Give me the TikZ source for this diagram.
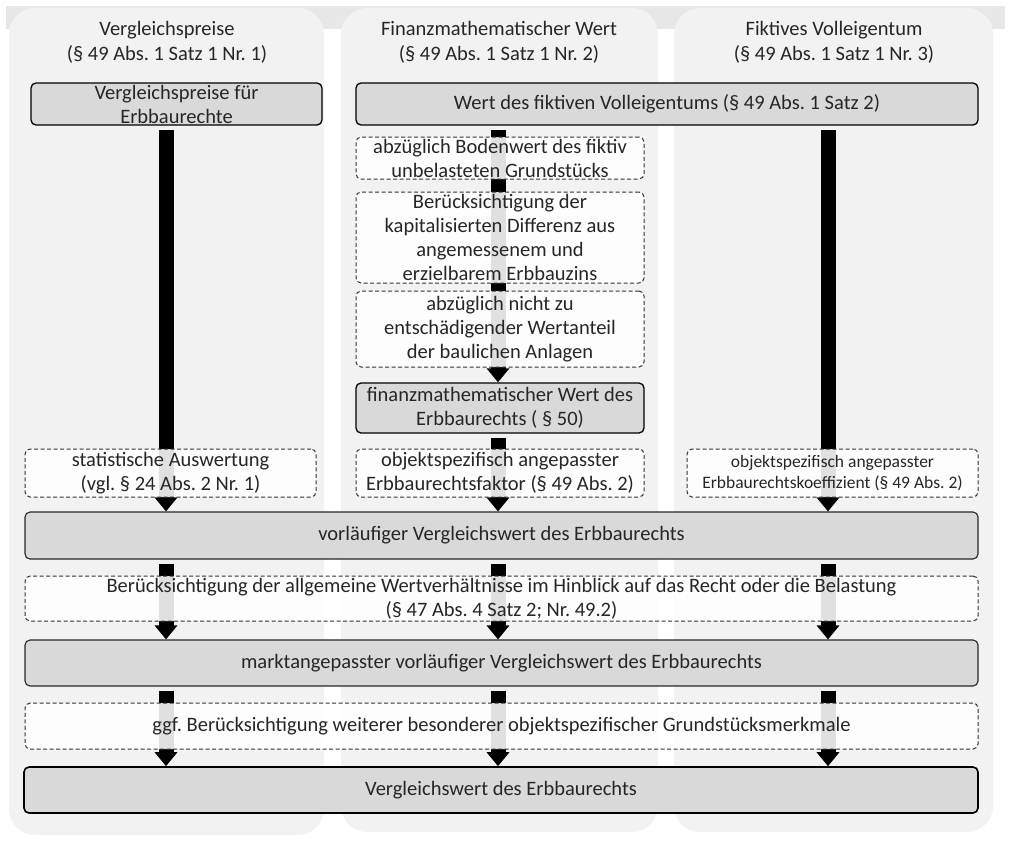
\documentclass[tikz,border=0pt]{standalone}
\usepackage{fontspec}
\setmainfont{Carlito}
\usetikzlibrary{arrows.meta,calc}
\definecolor{colbg}{HTML}{F2F2F2}
\definecolor{bandc}{HTML}{E7E7E7}
\definecolor{boxfill}{HTML}{D9D9D9}
\definecolor{txtc}{HTML}{262626}
\definecolor{dashc}{HTML}{333333}
\pgfdeclarelayer{bg}
\pgfdeclarelayer{arr}
\pgfsetlayers{bg,arr,main}
\newcommand\mainsz{\fontsize{20.5}{24}\selectfont}
\newcommand\smallsz{\fontsize{17.5}{20.5}\selectfont}
\tikzset{
  solidbox/.style={draw=black, line width=1.3pt, fill=boxfill, rounded corners=5pt,
    inner sep=0pt, align=center, text=txtc, font=\mainsz},
  widebox/.style={solidbox, line width=1.1pt, draw=txtc},
  dashbox/.style={draw=dashc, line width=1pt, dash pattern=on 4pt off 2.5pt,
    fill=white, fill opacity=0.88, text opacity=1, rounded corners=5pt,
    inner sep=0pt, align=center, text=txtc, font=\mainsz},
  headtext/.style={align=center, text=txtc, font=\fontsize{20.5}{25}\selectfont, inner sep=0pt},
  flow/.style={line width=15pt, black, shorten <=4pt, -{Triangle[width=22pt,length=14pt]}},
  colpanel/.style={fill=colbg, rounded corners=26pt},
}
\begin{document}
\frenchspacing
\begin{tikzpicture}[x=1pt,y=-1pt]
\useasboundingbox (0,0) rectangle (1011,841);
\begin{pgfonlayer}{bg}
  \fill[bandc] (6,6) rectangle (1005,29);
  \path[colpanel] (9,8) rectangle (324,835);
  \path[colpanel] (341,8) rectangle (658,832);
  \path[colpanel] (674,8) rectangle (993,832);
\end{pgfonlayer}

\coordinate (x1) at (166,0);
\coordinate (x2) at (498,0);
\coordinate (x3) at (828,0);

\node[headtext] (h1) at (167,42.5) {Vergleichspreise\\(§ 49 Abs. 1 Satz 1 Nr. 1)};
\node[headtext] (h2) at (499,42.5) {Finanzmathematischer Wert\\(§ 49 Abs. 1 Satz 1 Nr. 2)};
\node[headtext] (h3) at (834,42.5) {Fiktives Volleigentum\\(§ 49 Abs. 1 Satz 1 Nr. 3)};

\node[solidbox, minimum width=291pt, minimum height=42pt] (b1) at (176.5,104)
  {Vergleichspreise für\\Erbbaurechte};
\node[solidbox, minimum width=622pt, minimum height=42pt] (w) at (667,104)
  {Wert des fiktiven Volleigentums (§ 49 Abs. 1 Satz 2)};

\node[dashbox, minimum width=288pt, minimum height=42pt] (d1) at (500,158)
  {abzüglich Bodenwert des fiktiv\\unbelasteten Grundstücks};
\node[dashbox, minimum width=288pt, minimum height=91pt] (d2) at (500,237.5)
  {Berücksichtigung der\\kapitalisierten Differenz aus\\angemessenem und\\erzielbarem Erbbauzins};
\node[dashbox, minimum width=288pt, minimum height=76pt] (d3) at (500,329)
  {abzüglich nicht zu\\entschädigender Wertanteil\\der baulichen Anlagen};
\node[solidbox, minimum width=288pt, minimum height=50pt] (f) at (500,408)
  {finanzmathematischer Wert des\\Erbbaurechts ( § 50)};

\node[dashbox, minimum width=291pt, minimum height=48pt] (s1) at (170.5,473)
  {statistische Auswertung\\(vgl. § 24 Abs. 2 Nr. 1)};
\node[dashbox, minimum width=288pt, minimum height=48pt] (o2) at (500,473)
  {objektspezifisch angepasster\\Erbbaurechtsfaktor (§ 49 Abs. 2)};
\node[dashbox, minimum width=291pt, minimum height=48pt, font=\smallsz] (o3) at (832.5,473)
  {objektspezifisch angepasster\\Erbbaurechtskoeffizient (§ 49 Abs. 2)};

\node[widebox, minimum width=953pt, minimum height=47pt] (v) at (501.5,535.5)
  {vorläufiger Vergleichswert des Erbbaurechts};
\node[dashbox, minimum width=953pt, minimum height=45pt] (bw) at (501.5,598.5)
  {Berücksichtigung der allgemeine Wertverhältnisse im Hinblick auf das Recht oder die Belastung\\(§ 47 Abs. 4 Satz 2; Nr. 49.2)};
\node[widebox, minimum width=953pt, minimum height=46pt] (m) at (501.5,663)
  {marktangepasster vorläufiger Vergleichswert des Erbbaurechts};
\node[dashbox, minimum width=953pt, minimum height=46pt] (g) at (501.5,726)
  {ggf. Berücksichtigung weiterer besonderer objektspezifischer Grundstücksmerkmale};
\node[solidbox, line width=1.6pt, minimum width=954pt, minimum height=46pt] (e) at (501,790)
  {Vergleichswert des Erbbaurechts};

\begin{pgfonlayer}{arr}
  \draw[flow] (b1.south -| x1) -- (v.north -| x1);
  \draw[flow] (w.south -| x2) -- (f.north -| x2);
  \draw[flow] (f.south -| x2) -- (v.north -| x2);
  \draw[flow] (w.south -| x3) -- (v.north -| x3);
  \foreach \cx in {x1,x2,x3}{
    \draw[flow] (v.south -| \cx) -- (m.north -| \cx);
    \draw[flow] (m.south -| \cx) -- (e.north -| \cx);
  }
\end{pgfonlayer}
\end{tikzpicture}
\end{document}
